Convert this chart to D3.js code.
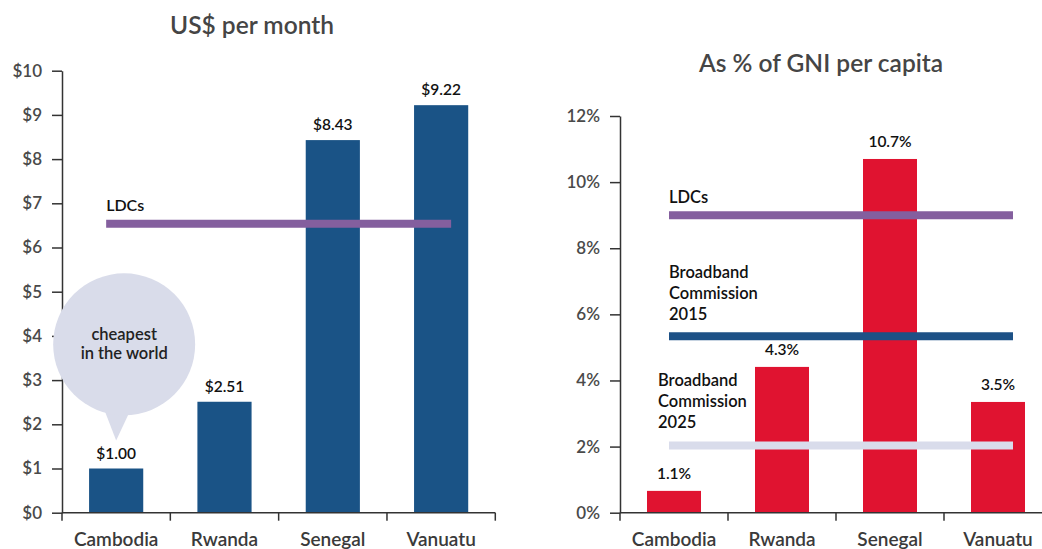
<!DOCTYPE html>
<html><head><meta charset="utf-8">
<script src="https://cdn.jsdelivr.net/npm/d3@7"></script>
<style>
html,body{margin:0;padding:0;background:#fff;}
svg{display:block;font-family:Lato,"Open Sans",sans-serif;}
</style></head><body>
<svg id="c" width="1042" height="549"></svg>
<script>
const categories = ["Cambodia","Rwanda","Senegal","Vanuatu"];
const usdValues = [1.00, 2.51, 8.43, 9.22];
const usdLabels = ["$1.00","$2.51","$8.43","$9.22"];
const usdTicks = [0,1,2,3,4,5,6,7,8,9,10];
const usdRefLines = [{name:"LDCs", value:6.54}];
const gniValues = [0.66, 4.41, 10.7, 3.35];
const gniLabels = ["1.1%","4.3%","10.7%","3.5%"];
const gniTicks = [0,2,4,6,8,10,12];
const gniRefLines = [
  {name:["LDCs"], value:9.0},
  {name:["Broadband","Commission","2015"], value:5.34},
  {name:["Broadband","Commission","2025"], value:2.03}
];

const svg = d3.select("#c");
const BAR = "#1a5386", RED = "#e01330";

function panel(opts){
  const g = svg.append("g");
  const x = d3.scaleBand().domain(categories).range(opts.xr).paddingInner(0.5).paddingOuter(0.25);
  const y = d3.scaleLinear().domain(opts.yd).range([512.7, opts.ytop]);
  g.append("text").attr("x", opts.tx).attr("y", opts.ty).attr("text-anchor","middle")
    .attr("font-size", 24.5).attr("font-weight", 600).attr("fill","#454545").text(opts.title);
  const ya = g.append("g").attr("transform",`translate(${opts.xr[0]},0)`)
    .call(d3.axisLeft(y).tickValues(opts.ticks).tickFormat(opts.fmt).tickSize(10).tickSizeOuter(0).tickPadding(10));
  ya.select(".domain").attr("stroke","#333").attr("stroke-width",1.5);
  ya.selectAll(".tick line").attr("stroke","#333").attr("stroke-width",1.5);
  ya.selectAll(".tick text").attr("font-size",17).attr("font-weight",600).attr("fill","#4a4a4a").attr("font-family","Lato,sans-serif");
  return {g,x,y};
}
function xaxis(p){
  const xa = p.g.append("g").attr("transform","translate(0,512.7)")
    .call(d3.axisBottom(p.x).tickSize(0));
  xa.select(".domain").remove();
  const r = p.x.range();
  xa.append("line").attr("x1",r[0]).attr("x2",r[1]).attr("stroke","#333").attr("stroke-width",1.5);
  const step = p.x.step();
  for(let i=0;i<=categories.length;i++){
    xa.append("line").attr("x1",r[0]+i*step).attr("x2",r[0]+i*step).attr("y1",0).attr("y2",8)
      .attr("stroke","#333").attr("stroke-width",1.5);
  }
  xa.selectAll(".tick text").attr("y",33).attr("dy",0).attr("font-size",19).attr("font-weight",600)
    .attr("fill","#3a3a3a").attr("font-family","Lato,sans-serif");
}

// ---- Left panel
const L = panel({xr:[62,495.3], yd:[0,10], ytop:70.7, title:"US$ per month", tx:252, ty:34,
  ticks:usdTicks, fmt:d=>"$"+d});
L.g.selectAll("rect.bar").data(usdValues).join("rect").attr("class","bar")
  .attr("x",(d,i)=>L.x(categories[i])).attr("width",L.x.bandwidth())
  .attr("y",d=>L.y(d)).attr("height",d=>L.y(0)-L.y(d)).attr("fill",BAR);
L.g.selectAll("text.val").data(usdValues).join("text").attr("class","val")
  .attr("x",(d,i)=>L.x(categories[i])+L.x.bandwidth()/2).attr("y",d=>L.y(d)-10)
  .attr("text-anchor","middle").attr("font-size",15.5).attr("font-weight",600).attr("fill","#111")
  .text((d,i)=>usdLabels[i]);
usdRefLines.forEach(r=>{
  const x0 = L.x(categories[0])+L.x.bandwidth()/2-10, x1 = L.x(categories[3])+L.x.bandwidth()/2+10;
  L.g.append("line").attr("x1",x0).attr("x2",x1).attr("y1",L.y(r.value)).attr("y2",L.y(r.value))
    .attr("stroke","#845f9e").attr("stroke-width",8);
  L.g.append("text").attr("x",x0).attr("y",L.y(r.value)-13).attr("font-size",16).attr("font-weight",600)
    .attr("fill","#111").text(r.name);
});
{
  const cx = L.x(categories[0])+L.x.bandwidth()/2;
  const tipY = L.y(usdValues[0]) - 28;
  const bx = cx+8, by = L.y(3.81), rad = 71;
  L.g.append("path").attr("d",`M${cx-14},${by+60} L${cx},${tipY} L${cx+17},${by+60} Z`).attr("fill","#d9dcea");
  L.g.append("circle").attr("cx",bx).attr("cy",by).attr("r",rad).attr("fill","#d9dcea");
  L.g.append("text").attr("x",bx).attr("y",by-4).attr("text-anchor","middle").attr("font-size",16.5)
    .attr("font-weight",600).attr("fill","#222").text("cheapest");
  L.g.append("text").attr("x",bx).attr("y",by+14.5).attr("text-anchor","middle").attr("font-size",16.5)
    .attr("font-weight",600).attr("fill","#222").text("in the world");
}
xaxis(L);

// ---- Right panel
const R = panel({xr:[620,1052], yd:[0,12], ytop:116, title:"As % of GNI per capita", tx:821, ty:72,
  ticks:gniTicks, fmt:d=>d+"%"});
R.g.selectAll("rect.bar").data(gniValues).join("rect").attr("class","bar")
  .attr("x",(d,i)=>R.x(categories[i])).attr("width",R.x.bandwidth())
  .attr("y",d=>R.y(d)).attr("height",d=>R.y(0)-R.y(d)).attr("fill",RED);
R.g.selectAll("text.val").data(gniValues).join("text").attr("class","val")
  .attr("x",(d,i)=>R.x(categories[i])+R.x.bandwidth()/2).attr("y",d=>R.y(d)-12)
  .attr("text-anchor","middle").attr("font-size",15.5).attr("font-weight",600).attr("fill","#111")
  .text((d,i)=>gniLabels[i]);
const refColors = ["#845f9e","#1d5186","#d9dceb"];
gniRefLines.forEach((r,k)=>{
  const x0 = R.x(categories[0])+R.x.bandwidth()/2-5, x1 = R.x(categories[3])+R.x.bandwidth()/2+15;
  R.g.append("line").attr("x1",x0).attr("x2",x1).attr("y1",R.y(r.value)).attr("y2",R.y(r.value))
    .attr("stroke",refColors[k]).attr("stroke-width",8);
});
const refLabelPos = [
  {x:669, y:[202.7]},
  {x:669, y:[277.5,298.7,320]},
  {x:658, y:[386,407,428]}
];
gniRefLines.forEach((r,k)=>{
  r.name.forEach((t,j)=>{
    R.g.append("text").attr("x",refLabelPos[k].x).attr("y",refLabelPos[k].y[j]).attr("font-size",16.5)
      .attr("font-weight",600).attr("fill","#111").text(t);
  });
});
xaxis(R);
</script>
</body></html>
